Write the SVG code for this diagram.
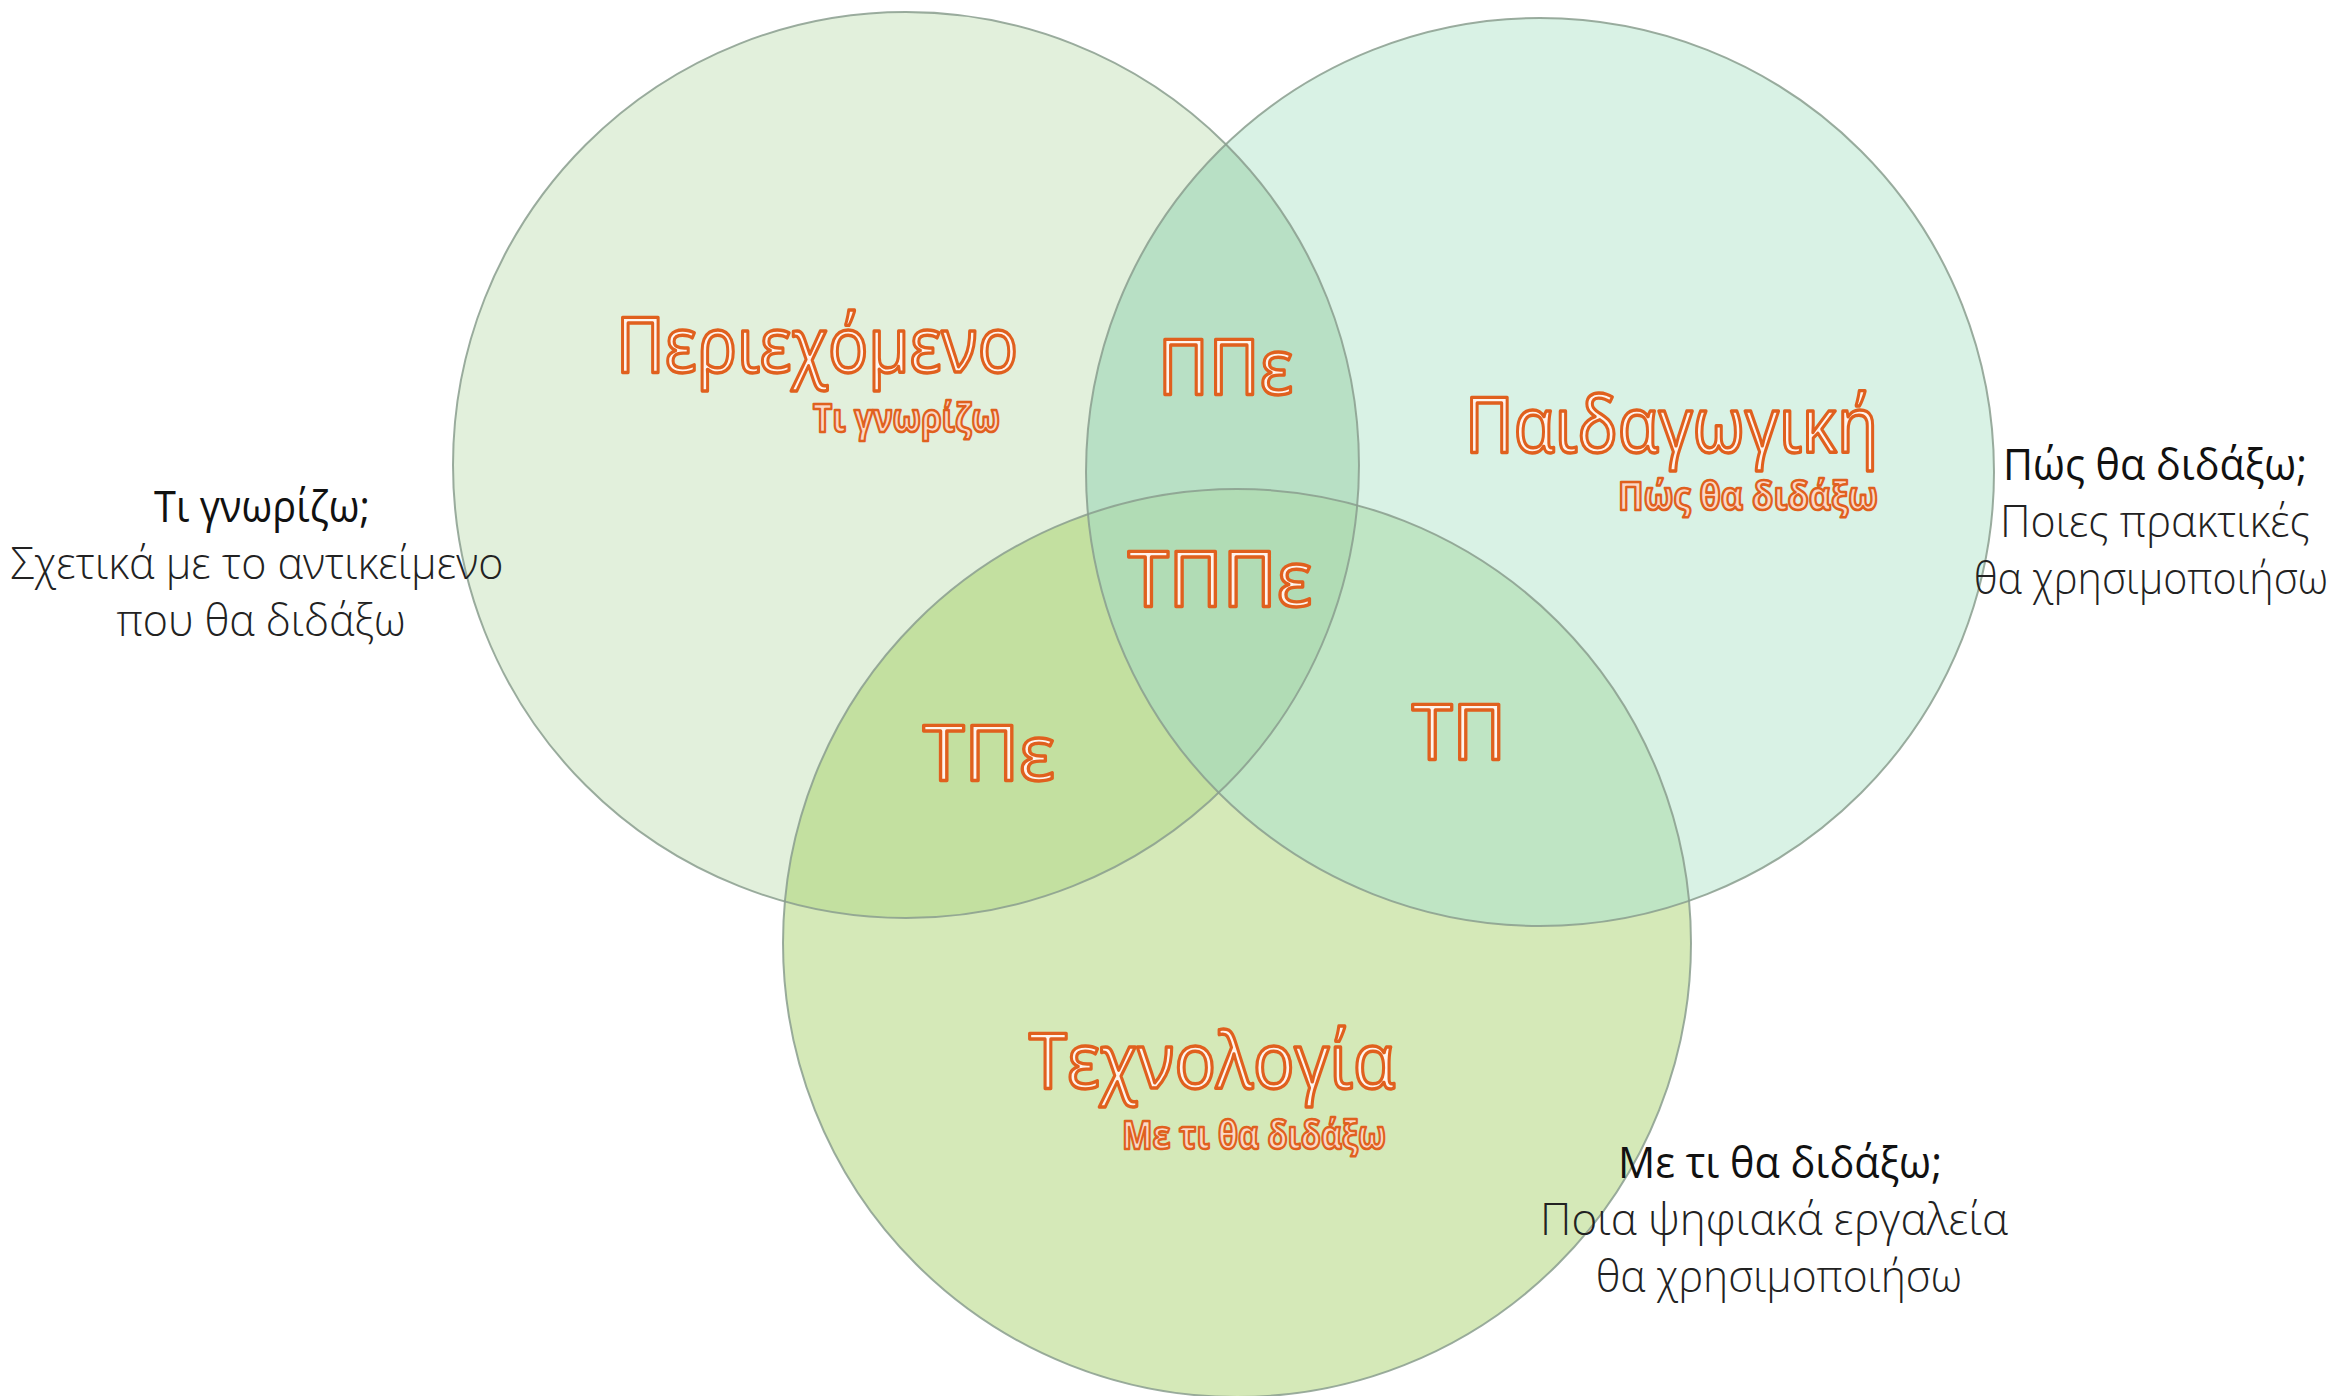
<svg xmlns="http://www.w3.org/2000/svg" width="2343" height="1396" viewBox="0 0 2343 1396">
<style>
.ring{fill:none;stroke:#8a9e8e;stroke-width:2;stroke-opacity:0.85}
.big{font-family:"Open Sans","Noto Sans","DejaVu Sans",sans-serif;font-size:76px;font-weight:400;fill:#fff4ee;stroke:#e0601e;stroke-width:3.4;stroke-linejoin:round}
.sub{font-family:"Open Sans","Noto Sans","DejaVu Sans",sans-serif;font-size:40px;font-weight:700;fill:#fbd9c6;stroke:#e0601e;stroke-width:2.6;stroke-linejoin:round}
.q{font-family:"Open Sans","Noto Sans","DejaVu Sans",sans-serif;font-size:44px;font-weight:400;fill:#111;text-anchor:middle}
.d{font-family:"Open Sans","Noto Sans","DejaVu Sans",sans-serif;font-size:44px;font-weight:300;fill:#222;text-anchor:middle}
</style>
<defs>
<clipPath id="cL"><circle cx="906" cy="465" r="453"/></clipPath>
<clipPath id="cR"><circle cx="1540" cy="472" r="454"/></clipPath>
<clipPath id="cB"><circle cx="1237" cy="943" r="454"/></clipPath>
</defs>
<rect width="2343" height="1396" fill="#ffffff"/>
<g id="fills">
<circle cx="906" cy="465" r="453" fill="#e2f0dc"/>
<circle cx="1540" cy="472" r="454" fill="#d9f2e5"/>
<circle cx="1237" cy="943" r="454" fill="#d5e9b8"/>
<g clip-path="url(#cL)"><circle cx="1540" cy="472" r="454" fill="#b8e0c5"/><circle cx="1237" cy="943" r="454" fill="#c3e0a0"/></g>
<g clip-path="url(#cR)"><circle cx="1237" cy="943" r="454" fill="#bfe5c4"/></g>
<g clip-path="url(#cL)"><g clip-path="url(#cR)"><circle cx="1237" cy="943" r="454" fill="#b1dcb5"/></g></g>
</g>
<g id="connectors"/>
<g id="content">
<circle class="ring" cx="906" cy="465" r="453"/>
<text class="big" x="616" y="372" textLength="402" lengthAdjust="spacingAndGlyphs">Περιεχόμενο</text>
<text class="sub" x="813" y="432" textLength="187" lengthAdjust="spacingAndGlyphs">Τι γνωρίζω</text>
</g>
<g id="pedagogy">
<circle class="ring" cx="1540" cy="472" r="454"/>
<text class="big" x="1465" y="452" textLength="413" lengthAdjust="spacingAndGlyphs">Παιδαγωγική</text>
<text class="sub" x="1618" y="510" textLength="260" lengthAdjust="spacingAndGlyphs">Πώς θα διδάξω</text>
</g>
<g id="technology">
<circle class="ring" cx="1237" cy="943" r="454"/>
<text class="big" x="1029" y="1088" textLength="366" lengthAdjust="spacingAndGlyphs">Τεχνολογία</text>
<text class="sub" x="1122" y="1149" textLength="264" lengthAdjust="spacingAndGlyphs">Με τι θα διδάξω</text>
</g>
<g id="PPe"><text class="big" x="1158" y="394" textLength="135" lengthAdjust="spacingAndGlyphs">ΠΠε</text></g>
<g id="TPPe"><text class="big" x="1128" y="606" textLength="184" lengthAdjust="spacingAndGlyphs">ΤΠΠε</text></g>
<g id="TPe"><text class="big" x="923" y="780" textLength="132" lengthAdjust="spacingAndGlyphs">ΤΠε</text></g>
<g id="TP"><text class="big" x="1412" y="759" textLength="94" lengthAdjust="spacingAndGlyphs">ΤΠ</text></g>
<g id="note-content">
<text class="q" x="262" y="522" textLength="216" lengthAdjust="spacingAndGlyphs">Τι γνωρίζω;</text>
<text class="d" x="257" y="579" textLength="493" lengthAdjust="spacingAndGlyphs">Σχετικά με το αντικείμενο</text>
<text class="d" x="261" y="636" textLength="289" lengthAdjust="spacingAndGlyphs">που θα διδάξω</text>
</g>
<g id="note-pedagogy">
<text class="q" x="2155" y="480" textLength="304" lengthAdjust="spacingAndGlyphs">Πώς θα διδάξω;</text>
<text class="d" x="2155" y="537" textLength="310" lengthAdjust="spacingAndGlyphs">Ποιες πρακτικές</text>
<text class="d" x="2151" y="594" textLength="354" lengthAdjust="spacingAndGlyphs">θα χρησιμοποιήσω</text>
</g>
<g id="note-technology">
<text class="q" x="1780" y="1178" textLength="324" lengthAdjust="spacingAndGlyphs">Με τι θα διδάξω;</text>
<text class="d" x="1774" y="1235" textLength="468" lengthAdjust="spacingAndGlyphs">Ποια ψηφιακά εργαλεία</text>
<text class="d" x="1779" y="1292" textLength="366" lengthAdjust="spacingAndGlyphs">θα χρησιμοποιήσω</text>
</g>
</svg>
